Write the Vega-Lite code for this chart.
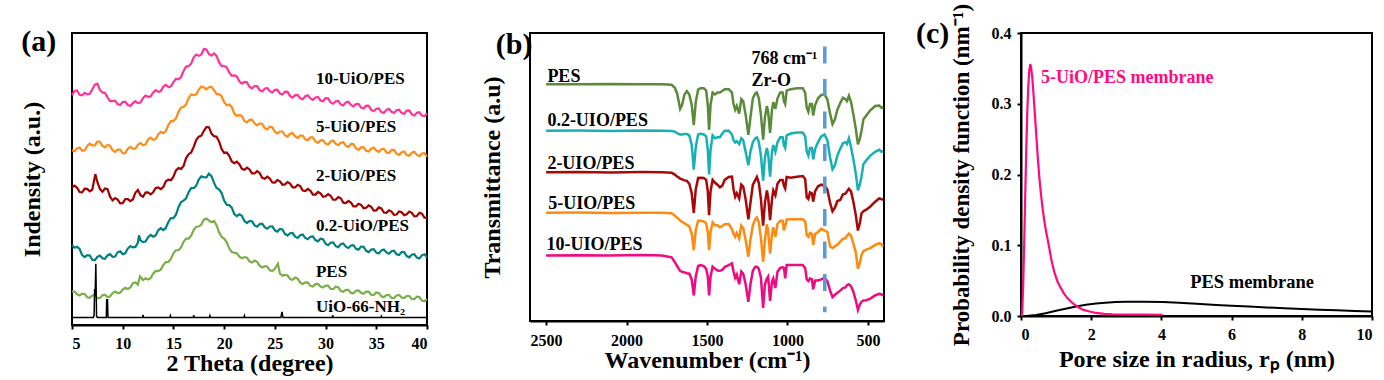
{
  "$schema": "https://vega.github.io/schema/vega-lite/v6.json",
  "background": "white",
  "padding": {"left": 19, "top": 2, "right": 0, "bottom": 0},
  "bounds": "flush",
  "spacing": 103,
  "resolve": {"scale": {"color": "independent"}},
  "config": {
    "font": "Liberation Serif, Times New Roman, Times, serif",
    "view": {"stroke": "black", "strokeWidth": 2},
    "axis": {
      "labelFont": "Liberation Serif, Times New Roman, Times, serif", "labelFontWeight": "bold", "labelFontSize": 16, "labelColor": "black",
      "titleFont": "Liberation Serif, Times New Roman, Times, serif", "titleFontWeight": "bold", "titleFontSize": 24, "titleColor": "black",
      "domainColor": "black", "domainWidth": 2, "tickColor": "black", "tickWidth": 2, "tickSize": 4, "grid": false
    },
    "text": {"font": "Liberation Serif, Times New Roman, Times, serif", "fontWeight": "bold", "color": "black"}
  },
  "datasets": {
    "xrd": [
      {"t":5,"a":236,"b":179.5,"c":141.3,"d":82.3,"e":34.3},
      {"t":5.25,"a":240.5,"b":178.5,"c":143.2,"d":79.3,"e":34.4},
      {"t":5.5,"a":241,"b":181.5,"c":141,"d":80.3,"e":31.5},
      {"t":5.75,"a":236.5,"b":182.3,"c":136.6,"d":78.1,"e":30.4},
      {"t":6,"a":236,"b":179,"c":136.2,"d":71.8,"e":32.2},
      {"t":6.25,"a":238.5,"b":179.5,"c":140,"d":69.8,"e":31.9},
      {"t":6.5,"a":237,"b":184,"c":139.8,"d":71.7,"e":28.5},
      {"t":6.75,"a":237.5,"b":186.3,"c":137.4,"d":71.4,"e":27.9},
      {"t":7,"a":242,"b":184.5,"c":139,"d":67,"e":30.3},
      {"t":7.25,"a":247,"b":184.5,"d":66.5,"e":30.5},
      {"t":7.3,"c":155},
      {"t":7.5,"a":248,"b":188.5,"c":147,"d":70,"e":27.7},
      {"t":7.75,"a":241.5,"b":188.3,"c":139.9,"d":71.3,"e":27.6},
      {"t":8,"a":239,"b":184,"c":136.8,"d":68.5,"e":30.5},
      {"t":8.25,"a":238.5,"b":182.5,"c":140.2,"d":68,"e":31.2},
      {"t":8.5,"a":234,"b":185,"c":139.5,"d":71.5,"e":28.8},
      {"t":8.75,"a":230,"b":184.3,"c":131.8,"d":72.8,"e":29.3},
      {"t":9,"a":230,"b":179.5,"c":128,"d":70,"e":32.7},
      {"t":9.25,"a":230.5,"b":177.9,"c":130.4,"d":70.4,"e":34.3},
      {"t":9.5,"a":227,"b":180.2,"c":128.8,"d":74.7,"e":32.8},
      {"t":9.75,"a":226,"b":180.3,"c":125,"d":75.8,"e":33.2},
      {"t":10,"a":229,"b":176.3,"c":125.2,"d":72.8,"e":36.5},
      {"t":10.25,"a":229.5,"b":176.7,"c":129.3,"d":73.7,"e":38.3},
      {"t":10.5,"a":226,"b":181,"c":129.3,"d":78.5,"e":37},
      {"t":10.75,"a":225,"b":183.1,"c":127.2,"d":81.1,"e":38.5},
      {"t":11,"a":228,"b":181.2,"c":129,"d":79.7,"e":43},
      {"t":11.25,"a":230,"b":181.2,"c":135.9,"d":80.2,"e":43.8},
      {"t":11.5,"a":228,"b":185.2,"c":138.7,"d":84.7,"e":41.5},
      {"t":11.6,"d":92},
      {"t":11.7,"e":50},
      {"t":11.75,"a":228.5,"b":187,"c":133.3,"d":87},
      {"t":12,"a":233,"b":184.7,"c":131.8,"d":85.2,"e":46.2},
      {"t":12.25,"a":235.8,"b":185.7,"c":136.1,"d":85.7,"e":48},
      {"t":12.5,"a":234.5,"b":190.7,"c":136.3,"d":90.2,"e":46.7},
      {"t":12.75,"a":234.8,"b":192.5,"c":134.3,"d":92.5,"e":48.2},
      {"t":13,"a":239,"b":190.2,"c":136.3,"d":90.7,"e":52.7},
      {"t":13.25,"a":241.3,"b":191,"c":140.8,"d":92,"e":55.5},
      {"t":13.5,"a":239.5,"b":195.8,"c":141.3,"d":97.3,"e":55.3},
      {"t":13.75,"a":240.3,"b":198.4,"c":139.6,"d":99.4,"e":56.9},
      {"t":14,"a":245,"b":197,"c":141.8,"d":97.5,"e":61.5},
      {"t":14.25,"a":246.8,"b":199.3,"c":147.6,"d":99.7,"e":64.7},
      {"t":14.5,"a":244.5,"b":205.5,"c":149.3,"d":105.8,"e":64.8},
      {"t":14.75,"a":245,"b":209.5,"c":148.8,"d":109.8,"e":67.8},
      {"t":15,"a":249.5,"b":209.5,"c":152.3,"d":109.7,"e":73.7},
      {"t":15.25,"a":253,"b":212.3,"c":158.8,"d":113.4,"e":76.8},
      {"t":15.5,"a":252.5,"b":219,"c":161.2,"d":121,"e":76.8},
      {"t":15.75,"a":254.8,"b":223.5,"c":160.4,"d":126.4,"e":79.7},
      {"t":16,"a":261,"b":224,"c":163.5,"d":127.8,"e":85.5},
      {"t":16.25,"a":265.5,"b":226.7,"c":171.5,"d":130.2,"e":88.7},
      {"t":16.5,"a":266,"b":233.3,"c":175.5,"d":136.5,"e":88.8},
      {"t":16.75,"a":268.5,"b":236.8,"c":177.3,"d":140.6,"e":91.8},
      {"t":17,"a":275,"b":236.2,"c":183,"d":140.7,"e":97.7},
      {"t":17.25,"a":277.8,"b":237,"c":190.3,"d":143.1,"e":101},
      {"t":17.5,"a":276.5,"b":241.8,"c":193.5,"d":149.5,"e":101.2},
      {"t":17.75,"a":278,"b":244.9,"c":194.5,"d":152.7,"e":103.2},
      {"t":18,"a":283.5,"b":244,"c":199.5,"d":151.8,"e":108.2},
      {"t":18.25,"a":283,"b":242.2,"c":203.4,"d":151.7,"e":109.3},
      {"t":18.5,"a":278.5,"b":244.3,"c":203.2,"d":155.5,"e":107.3},
      {"t":18.75,"a":276.8,"b":244.8,"c":196.6,"d":152.9,"e":105.7},
      {"t":19,"a":279,"b":241.2,"c":194,"d":146.3,"e":107},
      {"t":19.25,"a":276.5,"b":237.3,"c":193.4,"d":140.8,"e":102.6},
      {"t":19.5,"a":270,"b":237.3,"c":188.7,"d":139.3,"e":95.2},
      {"t":19.75,"a":266,"b":235.2,"c":180.8,"d":135.6,"e":90.5},
      {"t":20,"a":266,"b":229,"c":176.8,"d":127.8,"e":88.8},
      {"t":20.25,"a":264.8,"b":225.8,"c":177.3,"d":123.5,"e":85.3},
      {"t":20.5,"a":259.5,"b":226.5,"c":173.8,"d":123.2,"e":78.8},
      {"t":20.75,"a":256,"b":224,"c":168,"d":120.6,"e":75},
      {"t":21,"a":256.5,"b":217.5,"c":166.3,"d":114,"e":74.3},
      {"t":21.25,"a":255.4,"b":214.7,"c":167.8,"d":111.9,"e":73.8},
      {"t":21.5,"a":250.3,"b":215.8,"c":165.2,"d":113.7,"e":70.3},
      {"t":21.75,"a":248,"b":214.8,"c":160.4,"d":112.3,"e":68.6},
      {"t":22,"a":249.7,"b":209.7,"c":159.5,"d":106.8,"e":69.8},
      {"t":22.25,"a":249.3,"b":208.2,"c":161.7,"d":104.8,"e":69.1},
      {"t":22.5,"a":244.8,"b":210.7,"c":159.8,"d":106.8,"e":65.3},
      {"t":22.75,"a":243.2,"b":211,"c":155.8,"d":106.6,"e":64.3},
      {"t":23,"a":245.5,"b":207.2,"c":155.7,"d":102.3,"e":66.3},
      {"t":23.25,"a":245.4,"b":205.1,"c":158,"d":101,"e":65},
      {"t":23.5,"a":241.3,"b":207,"c":156.2,"d":103.7,"e":60.7},
      {"t":23.75,"a":240,"b":206.7,"c":151.2,"d":104.1,"e":59.1},
      {"t":24,"a":242.7,"b":202.3,"c":150.2,"d":100.5,"e":60.5},
      {"t":24.25,"a":243.5,"b":201,"c":152.4,"d":98.9,"e":59.9},
      {"t":24.5,"a":240.3,"b":203.7,"c":150.5,"d":101.2,"e":56.3},
      {"t":24.75,"a":238.9,"b":203.1,"c":146.4,"d":101.3,"e":55.5},
      {"t":25,"a":241.5,"b":198.5,"c":146.3,"d":97.3,"e":57.7},
      {"t":25.25,"a":241.7,"b":196.7,"c":149,"d":96},
      {"t":25.3,"e":63},
      {"t":25.5,"a":237.8,"b":198.8,"c":147.7,"d":98.7,"e":52.8},
      {"t":25.75,"a":236.8,"b":198.8,"c":144.1,"d":98.1,"e":50.7},
      {"t":26,"a":239.7,"b":194.7,"c":144.5,"d":93.5,"e":51.5},
      {"t":26.25,"a":239.5,"b":193.6,"c":146.9,"d":91.9,"e":50.9},
      {"t":26.5,"a":235.2,"b":196.5,"c":145.2,"d":94.3,"e":47.3},
      {"t":26.75,"a":233.7,"b":197.2,"c":141.3,"d":94.5,"e":46.5},
      {"t":27,"a":236.2,"b":193.8,"c":141.3,"d":90.7,"e":48.7},
      {"t":27.25,"a":236.5,"b":192.2,"c":144,"d":89.5,"e":47.6},
      {"t":27.5,"a":232.8,"b":194.5,"c":142.7,"d":92.3,"e":43.5},
      {"t":27.75,"a":231.9,"b":194.6,"c":138.1,"d":92.9,"e":42.2},
      {"t":28,"a":235,"b":190.7,"c":137.5,"d":89.5,"e":43.8},
      {"t":28.25,"a":235.9,"b":189.8,"c":139.8,"d":88.1,"e":43.5},
      {"t":28.5,"a":232.7,"b":192.8,"c":138,"d":90.7,"e":40.2},
      {"t":28.75,"a":231.3,"b":192.7,"c":134,"d":91,"e":39.6},
      {"t":29,"a":233.8,"b":188.5,"c":134,"d":87.3,"e":42},
      {"t":29.25,"a":234.3,"b":187.1,"c":136.7,"d":86,"e":42.3},
      {"t":29.5,"a":230.7,"b":189.7,"c":135.3,"d":88.7,"e":39.5},
      {"t":29.75,"a":229.9,"b":190,"c":131.8,"d":88.1,"e":38.5},
      {"t":30,"a":233,"b":186.3,"c":132.2,"d":83.5,"e":40.5},
      {"t":30.25,"a":232.9,"b":185.4,"c":134.5,"d":82,"e":40.4},
      {"t":30.5,"a":228.7,"b":188.5,"c":132.7,"d":84.5,"e":37.2},
      {"t":30.75,"a":227.3,"b":189.4,"c":128.7,"d":84.8,"e":36.8},
      {"t":31,"a":229.8,"b":186.2,"c":128.7,"d":81,"e":39.3},
      {"t":31.25,"a":230.2,"b":184.8,"c":131.5,"d":80,"e":38.7},
      {"t":31.5,"a":226.5,"b":187.3,"c":130.2,"d":83,"e":35},
      {"t":31.75,"a":225.6,"b":187.7,"c":125.7,"d":83.8,"e":34.1},
      {"t":32,"a":228.7,"b":184,"c":125.2,"d":80.5,"e":36.2},
      {"t":32.25,"a":229.4,"b":183,"c":127.5,"d":79.1,"e":36.1},
      {"t":32.5,"a":226.1,"b":186,"c":125.8,"d":81.7,"e":33},
      {"t":32.75,"a":224.6,"b":185.8,"c":121.8,"d":82,"e":32.6},
      {"t":33,"a":227,"b":181.5,"c":121.8,"d":78.3,"e":35.2},
      {"t":33.25,"a":227.2,"b":180,"c":124.6,"d":77.4,"e":35.6},
      {"t":33.5,"a":223.4,"b":182.5,"c":123.4,"d":80.5,"e":33},
      {"t":33.75,"a":222.4,"b":182.8,"c":120,"d":80.4,"e":32.1},
      {"t":34,"a":225.3,"b":179,"c":120.5,"d":76.2,"e":34.2},
      {"t":34.25,"a":225.2,"b":178.2,"c":123,"d":74.9,"e":34.2},
      {"t":34.5,"a":221,"b":181.3,"c":121.4,"d":77.5,"e":31.1},
      {"t":34.75,"a":219.6,"b":182.3,"c":117.6,"d":77.9,"e":30.8},
      {"t":35,"a":222.2,"b":179.2,"c":117.8,"d":74.3,"e":33.5},
      {"t":35.25,"a":222.5,"b":177.9,"c":120.8,"d":73.5,"e":33},
      {"t":35.5,"a":218.8,"b":180.5,"c":119.8,"d":76.7,"e":29.4},
      {"t":35.75,"a":217.9,"b":180.9,"c":115.5,"d":77.6,"e":28.6},
      {"t":36,"a":221,"b":177.3,"c":115.2,"d":74.5,"e":30.8},
      {"t":36.25,"a":222.1,"b":176.6,"c":117.9,"d":73.2,"e":30.8},
      {"t":36.5,"a":219.1,"b":179.9,"c":116.6,"d":75.8,"e":27.8},
      {"t":36.75,"a":217.9,"b":180,"c":113.1,"d":76.3,"e":27.6},
      {"t":37,"a":220.7,"b":176,"c":113.5,"d":72.7,"e":30.3},
      {"t":37.25,"a":221.2,"b":174.8,"c":116.7,"d":71.9,"e":30.8},
      {"t":37.5,"a":217.7,"b":177.6,"c":115.9,"d":75,"e":28.3},
      {"t":37.75,"a":217,"b":178.2,"c":112.9,"d":74.9,"e":27.6},
      {"t":38,"a":220.3,"b":174.7,"c":113.8,"d":70.8,"e":29.8},
      {"t":38.25,"a":220.4,"b":173.9,"c":116.5,"d":69.5,"e":29.8},
      {"t":38.5,"a":216.4,"b":177,"c":115.2,"d":72.2,"e":26.7},
      {"t":38.75,"a":215.2,"b":177.9,"c":111.6,"d":72.7,"e":26.5},
      {"t":39,"a":218,"b":174.8,"c":112,"d":69.2,"e":29.2},
      {"t":39.25,"a":218.6,"b":173.5,"c":115.2,"d":68.4,"e":28.7},
      {"t":39.5,"a":215.1,"b":176.2,"c":114.4,"d":71.6,"e":25.1},
      {"t":39.75,"a":214.4,"b":176.6,"c":110.3,"d":72.6,"e":24.3},
      {"t":40,"a":217.7,"b":173,"c":110.2,"d":69.5,"e":26.5}
    ],
    "uio": [
      {"t":5,"v":7.7},{"t":7.1,"v":7.7},{"t":7.18,"v":10},{"t":7.23,"v":37},{"t":7.28,"v":30},{"t":7.35,"v":63},{"t":7.42,"v":9},{"t":7.5,"v":7.7},
      {"t":8.38,"v":7.7},{"t":8.42,"v":26},{"t":8.5,"v":26},{"t":8.55,"v":7.7},
      {"t":11.95,"v":7.7},{"t":12,"v":10.5},{"t":12.05,"v":7.7},
      {"t":14.65,"v":7.7},{"t":14.7,"v":9.5},{"t":14.75,"v":7.7},
      {"t":16.95,"v":7.7},{"t":17,"v":10},{"t":17.05,"v":7.7},
      {"t":18.55,"v":7.7},{"t":18.6,"v":9.5},{"t":18.65,"v":7.7},
      {"t":21.95,"v":7.7},{"t":22,"v":9.5},{"t":22.05,"v":7.7},
      {"t":25.6,"v":7.7},{"t":25.7,"v":13.5},{"t":25.8,"v":7.7},
      {"t":30.65,"v":7.7},{"t":30.7,"v":10},{"t":30.75,"v":7.7},
      {"t":35.45,"v":7.7},{"t":35.5,"v":9},{"t":35.55,"v":7.7},
      {"t":40,"v":7.7}
    ],
    "labA": [
      {"x":29.05,"y":247.7,"s":"10-UiO/PES"},
      {"x":29.05,"y":198.3,"s":"5-UiO/PES"},
      {"x":29.05,"y":147.7,"s":"2-UiO/PES"},
      {"x":29.05,"y":96.7,"s":"0.2-UiO/PES"},
      {"x":29.05,"y":49.3,"s":"PES"},
      {"x":29.05,"y":13.3,"s":"UiO-66-NH\u2082"}
    ],
    "ftir": [
      {"w":2500,"p":246.7,"q":198.3,"r":155,"s":112.7,"u":68.3},
      {"w":2300,"p":246.5,"q":198.5,"r":155.3,"s":112.9,"u":68.6},
      {"w":2100,"p":247,"q":198,"r":154.8,"s":112.4,"u":68.1},
      {"w":1900,"p":246.7,"q":198.5,"r":155.2,"s":112.8,"u":68.8},
      {"w":1780,"p":246.5,"q":198.3,"r":155,"s":112.7,"u":68.3},
      {"w":1720,"p":246,"q":198,"r":154.5,"s":112.2,"u":66.3},
      {"w":1700,"p":243,"q":197.3,"r":152.5,"s":109.7,"u":61.3},
      {"w":1686,"p":237,"q":195.8,"r":150.5,"s":107.7,"u":57.3},
      {"w":1675,"p":228,"q":194.8,"r":149.5,"s":106.2,"u":54.3},
      {"w":1667,"p":221,"q":194.3,"r":148.3,"s":104.7,"u":52.3},
      {"w":1655,"p":225,"q":194.3,"r":147.5,"s":103.2,"u":51.3},
      {"w":1640,"p":236,"q":194.8,"r":146.5,"s":101.7,"u":50.6},
      {"w":1625,"p":239.5,"q":194.8,"r":146,"s":100.2,"u":49.8},
      {"w":1610,"p":236,"q":193.3,"r":143,"s":98.7,"u":49.3},
      {"w":1595,"p":225,"q":183.3,"r":133,"s":91,"u":43.3},
      {"w":1582,"p":204,"q":157.7,"r":112.7,"s":73.7,"u":26.6},
      {"w":1570,"p":228,"q":181.3,"r":137,"s":94.7,"u":46.3},
      {"w":1555,"p":241,"q":194.3,"r":149,"s":104.4,"u":57.3},
      {"w":1540,"p":242.5,"q":195,"r":149.3,"s":104.4,"u":58.3},
      {"w":1520,"p":242.5,"q":194.3,"r":149,"s":103.7,"u":57.3},
      {"w":1505,"p":240,"q":192.3,"r":147,"s":101.7,"u":54.3},
      {"w":1495,"p":225,"q":178.3,"r":135,"s":92.7,"u":46.3},
      {"w":1487,"p":199,"q":152.7,"r":110.3,"s":73.7,"u":26.6},
      {"w":1478,"p":225,"q":178.3,"r":135,"s":92.7,"u":46.3},
      {"w":1465,"p":238,"q":193.3,"r":147,"s":102.7,"u":56.6},
      {"w":1450,"p":236,"q":190.3,"r":144,"s":99.7,"u":54.3},
      {"w":1435,"p":238,"q":191.3,"r":142,"s":99.7,"u":52.6},
      {"w":1420,"p":238,"q":191.3,"r":139.3,"s":97.7,"u":52.3},
      {"w":1405,"p":239.5,"q":195.3,"r":141,"s":98.7,"u":53.3},
      {"w":1390,"p":241.5,"q":198.3,"r":147,"s":100.7,"u":56.3},
      {"w":1365,"p":241.5,"q":198.3,"r":150,"s":101,"u":58.3},
      {"w":1345,"p":238,"q":194.3,"r":150.3,"s":95.7,"u":60},
      {"w":1335,"p":226,"q":188.3,"r":137,"s":90.7,"u":51.3},
      {"w":1325,"p":220,"q":186,"r":129.3,"s":87.7,"u":45},
      {"w":1315,"p":224,"q":187.3,"r":133,"s":91.7,"u":48.3},
      {"w":1300,"p":216,"q":184.3,"r":127.7,"s":86,"u":38.3},
      {"w":1287,"p":231,"q":190.3,"r":142,"s":99.4,"u":51.6},
      {"w":1275,"p":229,"q":188.3,"r":140,"s":96.7,"u":49.3},
      {"w":1260,"p":215,"q":176.3,"r":127,"s":84.7,"u":38.3},
      {"w":1243,"p":194,"q":162.3,"r":106,"s":67,"u":20},
      {"w":1230,"p":212,"q":176.3,"r":123,"s":84.7,"u":38.3},
      {"w":1215,"p":232,"q":186.3,"r":142,"s":99.7,"u":52.3},
      {"w":1200,"p":237,"q":190.3,"r":146.7,"s":106,"u":56.6},
      {"w":1190,"p":238,"q":191.3,"r":150,"s":107.7,"u":56.6},
      {"w":1178,"p":232,"q":186.3,"r":144,"s":102.7,"u":54.3},
      {"w":1165,"p":215,"q":172.3,"r":127,"s":86.7,"u":45.3},
      {"w":1151,"p":189,"q":146.3,"r":99.3,"s":61.7,"u":13.6},
      {"w":1140,"p":212,"q":170.3,"r":123,"s":84.7,"u":38.3},
      {"w":1128,"p":224,"q":180.3,"r":136,"s":100.7,"u":44.3},
      {"w":1120,"p":218,"q":174.3,"r":129,"s":92.7,"u":46.3},
      {"w":1108,"p":196,"q":150.3,"r":105,"s":70.2,"u":21},
      {"w":1096,"p":220,"q":176.3,"r":127,"s":90.7,"u":41.3},
      {"w":1088,"p":228,"q":183.3,"r":136,"s":97.7,"u":44.3},
      {"w":1075,"p":221,"q":176.3,"r":131,"s":87.7,"u":34.3},
      {"w":1062,"p":232,"q":186.3,"r":143,"s":101,"u":51.3},
      {"w":1045,"p":238,"q":191.3,"r":147,"s":104.3,"u":55.3},
      {"w":1030,"p":238,"q":191.3,"r":147,"s":104.3,"u":56},
      {"w":1022,"p":229,"q":183.3,"r":141,"s":94.3,"u":55.3},
      {"w":1014,"p":226,"q":180.3,"r":138,"s":98.7,"u":44.3},
      {"w":1005,"p":240,"q":193.3,"r":150,"s":105.7,"u":58.3},
      {"w":980,"p":241.5,"q":195.3,"r":149.3,"s":106,"u":58.3},
      {"w":940,"p":242.5,"q":196.3,"r":150.3,"s":106,"u":58.3},
      {"w":905,"p":242.5,"q":196.3,"r":151,"s":106,"u":58.3},
      {"w":890,"p":238,"q":192.3,"r":148,"s":103.7,"u":55.3},
      {"w":880,"p":222,"q":176.3,"r":128.7,"s":89.3,"u":43.3},
      {"w":870,"p":218,"q":172.3,"r":127,"s":87.7,"u":41.6},
      {"w":860,"p":226,"q":180.3,"r":134,"s":91.7,"u":44.3},
      {"w":848,"p":226,"q":180.3,"r":133,"s":90.7,"u":43.3},
      {"w":840,"p":214,"q":168.3,"r":124.3,"s":79.3,"u":33},
      {"w":828,"p":225,"q":179.3,"r":135.3,"s":90.7,"u":42.3},
      {"w":810,"p":232,"q":186.3,"r":140.3,"s":92.7,"u":42.3},
      {"w":790,"p":235.5,"q":192.3,"r":142,"s":96,"u":43.3},
      {"w":770,"p":236,"q":194.3,"r":141,"s":94.3,"u":45},
      {"w":752,"p":231,"q":188.3,"r":137,"s":92.7,"u":41.6},
      {"w":735,"p":216,"q":170.3,"r":123,"s":77.7,"u":31.6},
      {"w":720,"p":205,"q":158,"r":114.3,"s":76,"u":25},
      {"w":705,"p":210,"q":162.3,"r":118,"s":77.7,"u":27.3},
      {"w":690,"p":220,"q":172.3,"r":125,"s":79.3,"u":29.3},
      {"w":672,"p":227,"q":179.3,"r":126,"s":82.7,"u":31.6},
      {"w":655,"p":232.5,"q":185.3,"r":132,"s":85.7,"u":34.3},
      {"w":640,"p":231,"q":186.3,"r":132.7,"s":86,"u":35},
      {"w":630,"p":229,"q":184.3,"r":135,"s":88.7,"u":37.3},
      {"w":618,"p":234.5,"q":190.3,"r":137.7,"s":91,"u":38.3},
      {"w":605,"p":228,"q":181.3,"r":135,"s":88.7,"u":36.3},
      {"w":590,"p":215,"q":168.3,"r":124,"s":80.7,"u":30.3},
      {"w":575,"p":200,"q":153.3,"r":110,"s":71,"u":21.3},
      {"w":562,"p":184,"q":136,"r":94.3,"s":54.3,"u":11.6},
      {"w":550,"p":190,"q":142.3,"r":102,"s":60.7,"u":17.3},
      {"w":540,"p":198,"q":150.3,"r":112,"s":68.7,"u":20},
      {"w":528,"p":210,"q":163.3,"r":114.3,"s":72.7,"u":21.3},
      {"w":510,"p":214,"q":167.3,"r":116,"s":74.3,"u":21.6},
      {"w":485,"p":219.5,"q":172.3,"r":119.3,"s":76,"u":23.3},
      {"w":455,"p":224,"q":176.3,"r":124.3,"s":79.3,"u":26.6},
      {"w":430,"p":224.5,"q":178.3,"r":127.7,"s":81,"u":28.3},
      {"w":415,"p":222,"q":176.3,"r":127,"s":79.7,"u":27.8},
      {"w":405,"p":223,"q":177,"r":126,"s":77.7,"u":26.3}
    ],
    "labB": [
      {"x":2492,"y":249.3,"s":"PES"},
      {"x":2492,"y":202.7,"s":"0.2-UIO/PES"},
      {"x":2492,"y":158.7,"s":"2-UIO/PES"},
      {"x":2487,"y":116.7,"s":"5-UIO/PES"},
      {"x":2497,"y":73.7,"s":"10-UIO/PES"},
      {"x":1223,"y":267.7,"s":"768 cm\u207b\u00b9"},
      {"x":1223,"y":244.3,"s":"Zr-O"}
    ],
    "pdfP": [
      {"r":0.03,"v":0},{"r":0.06,"v":0.04},{"r":0.09,"v":0.1},{"r":0.12,"v":0.17},{"r":0.15,"v":0.235},
      {"r":0.18,"v":0.29},{"r":0.21,"v":0.327},{"r":0.24,"v":0.349},{"r":0.265,"v":0.356},{"r":0.29,"v":0.351},
      {"r":0.32,"v":0.338},{"r":0.35,"v":0.318},{"r":0.38,"v":0.296},{"r":0.43,"v":0.26},{"r":0.475,"v":0.226},
      {"r":0.52,"v":0.197},{"r":0.57,"v":0.172},{"r":0.62,"v":0.15},{"r":0.665,"v":0.134},{"r":0.72,"v":0.118},
      {"r":0.76,"v":0.108},{"r":0.81,"v":0.095},{"r":0.855,"v":0.082},{"r":0.9,"v":0.072},{"r":0.95,"v":0.062},
      {"r":1.045,"v":0.048},{"r":1.14,"v":0.039},{"r":1.235,"v":0.031},{"r":1.33,"v":0.025},{"r":1.47,"v":0.018},
      {"r":1.615,"v":0.013},{"r":1.76,"v":0.009},{"r":1.95,"v":0.0063},{"r":2.14,"v":0.0043},{"r":2.37,"v":0.003},
      {"r":2.61,"v":0.0024},{"r":3.0,"v":0.002},{"r":3.5,"v":0.0019},{"r":4.04,"v":0.0018}
    ],
    "pdfB": [
      {"r":0.15,"v":0},{"r":0.43,"v":0.0014},{"r":0.7,"v":0.004},{"r":1.0,"v":0.0075},{"r":1.3,"v":0.0105},
      {"r":1.57,"v":0.0135},{"r":1.85,"v":0.0158},{"r":2.14,"v":0.0176},{"r":2.4,"v":0.0188},{"r":2.7,"v":0.0197},
      {"r":3.0,"v":0.0201},{"r":3.5,"v":0.0203},{"r":4.04,"v":0.0199},{"r":4.5,"v":0.0188},{"r":5.0,"v":0.0174},
      {"r":5.56,"v":0.0157},{"r":6.0,"v":0.0146},{"r":6.5,"v":0.0133},{"r":7.0,"v":0.0121},{"r":7.5,"v":0.011},
      {"r":8.0,"v":0.0099},{"r":8.5,"v":0.009},{"r":9.0,"v":0.0081},{"r":9.5,"v":0.0072},{"r":10.0,"v":0.0064}
    ]
  },
  "hconcat": [
    {
      "width": 355,
      "height": 292,
      "layer": [
        {
          "data": {"name": "xrd"},
          "transform": [{"fold": ["a", "b", "c", "d", "e"], "as": ["k", "v"]}, {"filter": "datum.v != null"}],
          "mark": {"type": "line", "strokeWidth": 2.2},
          "encoding": {
            "x": {"field": "t", "type": "quantitative", "scale": {"domain": [5, 40]},
                  "axis": {"values": [5, 10, 15, 20, 25, 30, 35, 40], "format": "d", "title": "2 Theta (degree)", "labelPadding": 6, "titlePadding": 0}},
            "y": {"field": "v", "type": "quantitative", "scale": {"domain": [0, 292]},
                  "axis": {"title": "Indensity (a.u.)", "labels": false, "ticks": false, "domain": false, "titlePadding": 28}},
            "color": {"field": "k", "type": "nominal", "legend": null,
                      "scale": {"domain": ["a", "b", "c", "d", "e"], "range": ["#FF3399", "#FF8C1A", "#A30000", "#008080", "#7AAE48"]}}
          }
        },
        {
          "data": {"name": "uio"},
          "mark": {"type": "line", "color": "black", "strokeWidth": 1.5},
          "encoding": {"x": {"field": "t", "type": "quantitative"}, "y": {"field": "v", "type": "quantitative"}}
        },
        {
          "data": {"name": "labA"},
          "mark": {"type": "text", "align": "left", "baseline": "alphabetic", "fontSize": 17, "fontWeight": "bold", "font": "Liberation Serif, Times New Roman, Times, serif"},
          "encoding": {"x": {"field": "x", "type": "quantitative"}, "y": {"field": "y", "type": "quantitative"}, "text": {"field": "s"}}
        },
        {
          "data": {"values": [{"x": 0, "y": 281.7, "s": "(a)"}]},
          "mark": {"type": "text", "align": "left", "baseline": "alphabetic", "fontSize": 30, "fontWeight": "bold", "font": "Liberation Serif, Times New Roman, Times, serif"},
          "encoding": {"x": {"field": "x", "type": "quantitative"}, "y": {"field": "y", "type": "quantitative"}, "text": {"field": "s"}}
        }
      ]
    },
    {
      "bounds": "flush",
      "spacing": 137,
      "resolve": {"scale": {"color": "independent"}},
      "hconcat": [
        {
          "width": 354,
          "height": 288,
          "layer": [
            {
              "data": {"name": "ftir"},
              "transform": [{"fold": ["p", "q", "r", "s", "u"], "as": ["k", "v"]}],
              "mark": {"type": "line", "strokeWidth": 2.5},
              "encoding": {
                "x": {"field": "w", "type": "quantitative", "scale": {"domain": [400, 2500], "reverse": true},
                      "axis": {"values": [2500, 2000, 1500, 1000, 500], "format": "d", "title": "Wavenumber (cm\u207b\u00b9)", "labelPadding": 7, "titlePadding": 0}},
                "y": {"field": "v", "type": "quantitative", "scale": {"domain": [0, 288]},
                      "axis": {"title": "Transmittance (a.u)", "labels": false, "ticks": false, "domain": false, "titlePadding": 26}},
                "color": {"field": "k", "type": "nominal", "legend": null,
                          "scale": {"domain": ["p", "q", "r", "s", "u"], "range": ["#5A8A3A", "#18B0B5", "#A80808", "#FF8A10", "#EE0A80"]}}
              }
            },
            {
              "data": {"values": [{"w": 768, "y1": 286, "y2": 9}]},
              "mark": {"type": "rule", "color": "#5B9BD5", "strokeWidth": 3.5, "strokeDash": [17, 15.5]},
              "encoding": {"x": {"field": "w", "type": "quantitative"}, "y": {"field": "y1", "type": "quantitative"}, "y2": {"field": "y2"}}
            },
            {
              "data": {"name": "labB"},
              "mark": {"type": "text", "align": "left", "baseline": "alphabetic", "fontSize": 18, "fontWeight": "bold", "font": "Liberation Serif, Times New Roman, Times, serif"},
              "encoding": {"x": {"field": "x", "type": "quantitative"}, "y": {"field": "y", "type": "quantitative"}, "text": {"field": "s"}}
            },
            {
              "data": {"values": [{"x": 2813, "y": 277.7, "s": "(b)"}]},
              "mark": {"type": "text", "align": "left", "baseline": "alphabetic", "fontSize": 30, "fontWeight": "bold", "font": "Liberation Serif, Times New Roman, Times, serif"},
              "encoding": {"x": {"field": "x", "type": "quantitative"}, "y": {"field": "y", "type": "quantitative"}, "text": {"field": "s"}}
            }
          ]
        },
        {
          "width": 351,
          "height": 283,
          "layer": [
            {
              "data": {"name": "pdfB"},
              "mark": {"type": "line", "color": "black", "strokeWidth": 2},
              "encoding": {
                "x": {"field": "r", "type": "quantitative", "scale": {"domain": [0, 10]},
                      "axis": {"values": [0, 2, 4, 6, 8, 10], "format": "d", "title": "Pore size in radius, r\u209a (nm)", "labelPadding": 6, "titlePadding": 5}},
                "y": {"field": "v", "type": "quantitative", "scale": {"domain": [0, 0.4]},
                      "axis": {"values": [0, 0.1, 0.2, 0.3, 0.4], "format": ".1f", "title": "Probability density function (nm\u207b\u00b9)", "titleFontSize": 23, "labelPadding": 6, "titlePadding": 18}}
              }
            },
            {
              "data": {"name": "pdfP"},
              "mark": {"type": "line", "color": "#FF0A80", "strokeWidth": 2.2},
              "encoding": {"x": {"field": "r", "type": "quantitative"}, "y": {"field": "v", "type": "quantitative"}}
            },
            {
              "data": {"values": [{"x": 0.57, "y": 0.33, "s": "5-UiO/PES membrane"}]},
              "mark": {"type": "text", "align": "left", "baseline": "alphabetic", "fontSize": 18, "fontWeight": "bold", "font": "Liberation Serif, Times New Roman, Times, serif", "color": "#FF0A80"},
              "encoding": {"x": {"field": "x", "type": "quantitative"}, "y": {"field": "y", "type": "quantitative"}, "text": {"field": "s"}}
            },
            {
              "data": {"values": [{"x": 4.82, "y": 0.0402, "s": "PES membrane"}]},
              "mark": {"type": "text", "align": "left", "baseline": "alphabetic", "fontSize": 18.5, "fontWeight": "bold", "font": "Liberation Serif, Times New Roman, Times, serif", "color": "black"},
              "encoding": {"x": {"field": "x", "type": "quantitative"}, "y": {"field": "y", "type": "quantitative"}, "text": {"field": "s"}}
            },
            {
              "data": {"values": [{"x": -2.99, "y": 0.386, "s": "(c)"}]},
              "mark": {"type": "text", "align": "left", "baseline": "alphabetic", "fontSize": 30, "fontWeight": "bold", "font": "Liberation Serif, Times New Roman, Times, serif"},
              "encoding": {"x": {"field": "x", "type": "quantitative"}, "y": {"field": "y", "type": "quantitative"}, "text": {"field": "s"}}
            }
          ]
        }
      ]
    }
  ]
}
